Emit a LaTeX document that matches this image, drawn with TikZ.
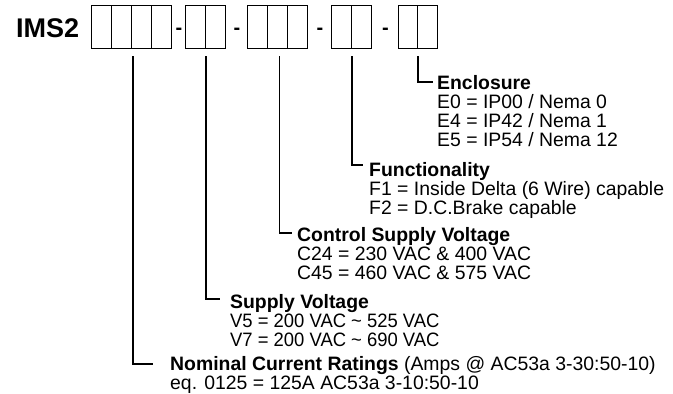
\documentclass[tikz,border=0pt]{standalone}
\usepackage{fontspec}
\setmainfont{Liberation Sans}
\begin{document}
\begin{tikzpicture}[x=1pt,y=1pt,
  cell/.style={draw=black,line width=0.9pt,minimum width=19.8pt,minimum height=43pt,inner sep=0pt},
  conn/.style={draw=black,line width=1.8pt},
  txt/.style={anchor=base west,inner sep=0pt,font=\fontsize{19.4}{19}\selectfont},
  head/.style={txt,font=\fontsize{19.4}{19}\selectfont\bfseries},
  narrow/.style={xscale=0.95},
  sep/.style={anchor=base,inner sep=0pt,font=\fontsize{20}{20}\selectfont\bfseries},
]
\useasboundingbox (0,0) rectangle (673,-394);
\node[anchor=base west,inner sep=0pt,font=\fontsize{27}{27}\selectfont\bfseries] (title) at (16,-37) {IMS2};
% cells
\foreach \n/\x in {a1/101.5,a2/121.5,a3/141.5,a4/161.5,
                   b1/195.5,b2/215.3,
                   c1/257.7,c2/277.5,c3/297.3,
                   d1/341.5,d2/361.3,
                   e1/407.9,e2/427.7}
  \node[cell] (\n) at (\x,-27) {};
\node[sep] (s1) at (179,-34.7) {-};
\node[sep] (s2) at (237,-34.7) {-};
\node[sep] (s3) at (320,-34.7) {-};
\node[sep] (s4) at (385.5,-34.7) {-};
% headings and text
\node[head] (enc) at (437,-89) {Enclosure};
\node[txt] (e0) at (437,-108) {E0 = IP00 / Nema 0};
\node[txt] (e4) at (437,-127) {E4 = IP42 / Nema 1};
\node[txt] (e5) at (437,-146) {E5 = IP54 / Nema 12};
\node[head] (fun) at (369,-176) {Functionality};
\node[txt] (f1) at (369,-195) {F1 = Inside Delta (6 Wire) capable};
\node[txt] (f2) at (369,-214) {F2 = D.C.Brake capable};
\node[head] (csv) at (297,-241) {Control Supply Voltage};
\node[txt] (c24) at (297,-260) {C24 = 230 VAC \& 400 VAC};
\node[txt] (c45) at (297,-279) {C45 = 460 VAC \& 575 VAC};
\node[head] (sv) at (230,-308) {Supply Voltage};
\node[txt,narrow] (v5) at (230,-327) {V5 = 200 VAC \textasciitilde\ 525 VAC};
\node[txt,narrow] (v7) at (230,-346) {V7 = 200 VAC \textasciitilde\ 690 VAC};
\node[txt] (ncr) at (170,-370.5) {\textbf{Nominal Current Ratings} (Amps @ AC53a 3-30:50-10)};
\node[txt] (eq) at (170,-389.5) {eq. 0125 = 125A AC53a 3-10:50-10};
% connector ends
\coordinate (k1) at (153,-364);
\coordinate (k2) at (220,-299);
\coordinate (k3) at (292,-233);
\coordinate (k4) at (363,-165);
\coordinate (k5) at (433,-82);
\draw[conn] ([xshift=1pt,yshift=-7.5pt]a2.south east) |- (k1);
\draw[conn] ([yshift=-7.5pt]b1.south east) |- (k2);
\draw[conn] ([xshift=2pt,yshift=-7.5pt]c2.south) |- (k3);
\draw[conn] ([yshift=-7.5pt]d1.south east) |- (k4);
\draw[conn] ([yshift=-7.5pt]e1.south east) |- (k5);
\end{tikzpicture}
\end{document}
